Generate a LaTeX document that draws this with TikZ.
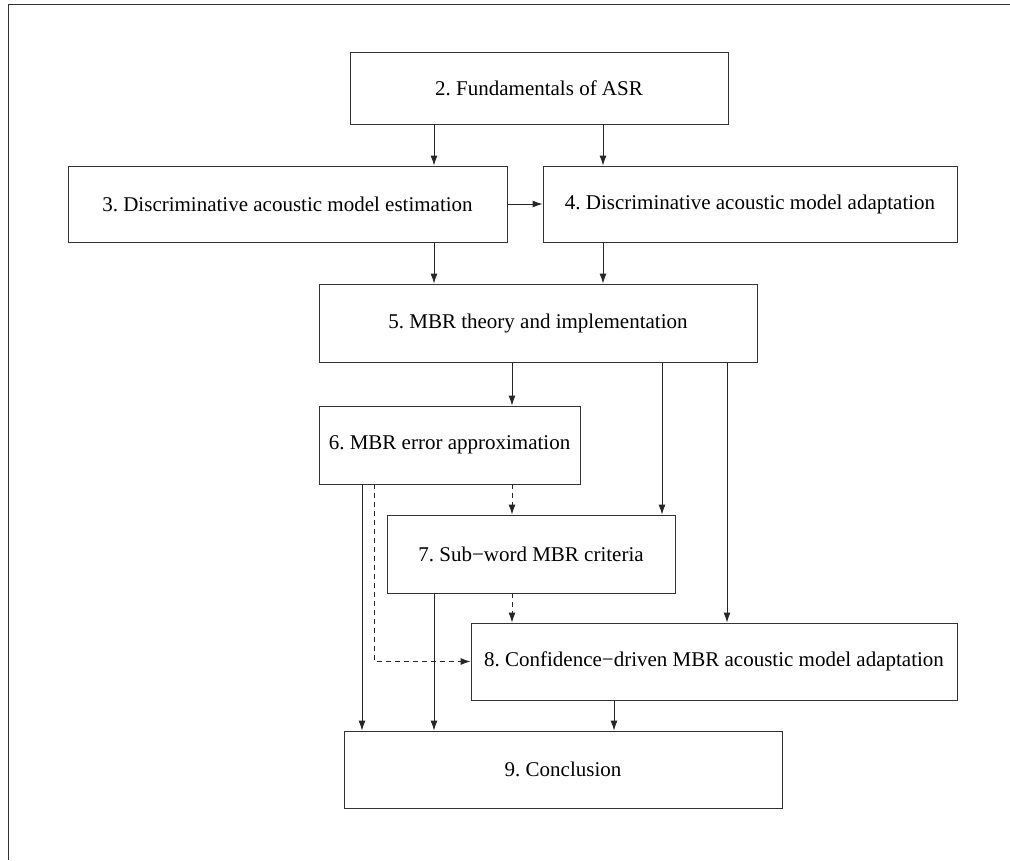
\documentclass[tikz,border=0pt]{standalone}
\usepackage{fontspec}
\setmainfont{Liberation Serif}
\usetikzlibrary{arrows.meta}
\frenchspacing
\newcommand{\mns}{\symbol{"2212}}
\begin{document}
\begin{tikzpicture}[x=1pt,y=-1pt,
  box/.style={draw=black!80,line width=0.9pt,rectangle,inner sep=0pt,font=\fontsize{21}{24}\selectfont,text=black},
  arr/.style={draw=black!85,line width=0.9pt,-{Latex[length=10pt,width=7pt]}},
  darr/.style={arr,dash pattern=on 5pt off 4pt}]
\useasboundingbox (0,0) rectangle (1010,860);
\draw[black!80,line width=0.9pt] (8,860) -- (8,4) -- (1010,4);
\node[box,minimum width=378pt,minimum height=72pt] (b2) at (539,88) {2. Fundamentals of ASR};
\node[box,minimum width=439pt,minimum height=76pt] (b3) at (287.5,204) {3. Discriminative acoustic model estimation};
\node[box,minimum width=414pt,minimum height=76pt] (b4) at (750,204) {4. Discriminative acoustic model adaptation};
\node[box,minimum width=438pt,minimum height=78pt] (b5) at (538,323) {5. MBR theory and implementation};
\node[box,minimum width=261pt,minimum height=78pt] (b6) at (449.5,445) {6. MBR error approximation};
\node[box,minimum width=288pt,minimum height=78pt] (b7) at (531,554) {7. Sub\mns word MBR criteria};
\node[box,minimum width=486pt,minimum height=77pt] (b8) at (714,661.5) {8. Confidence\mns driven MBR acoustic model adaptation};
\node[box,minimum width=438pt,minimum height=77pt] (b9) at (563,769.5) {9. Conclusion};
\coordinate (c362) at (362,0);
\coordinate (c374) at (374,0);
\coordinate (c434) at (434,0);
\coordinate (c512) at (512,0);
\coordinate (c603) at (603,0);
\coordinate (c614) at (614,0);
\coordinate (c662) at (662,0);
\coordinate (c727) at (727,0);
\draw[arr] (b2.south -| c434) -- (b3.north -| c434);
\draw[arr] (b2.south -| c603) -- (b4.north -| c603);
\draw[arr] (b3.east) -- (b4.west);
\draw[arr] (b3.south -| c434) -- (b5.north -| c434);
\draw[arr] (b4.south -| c603) -- (b5.north -| c603);
\draw[arr] (b5.south -| c512) -- (b6.north -| c512);
\draw[arr] (b5.south -| c662) -- (b7.north -| c662);
\draw[arr] (b5.south -| c727) -- (b8.north -| c727);
\draw[darr] (b6.south -| c512) -- (b7.north -| c512);
\draw[darr] (b7.south -| c512) -- (b8.north -| c512);
\draw[darr] (b6.south -| c374) |- (b8.west);
\draw[arr] (b6.south -| c362) -- (b9.north -| c362);
\draw[arr] (b7.south -| c434) -- (b9.north -| c434);
\draw[arr] (b8.south -| c614) -- (b9.north -| c614);
\end{tikzpicture}
\end{document}
